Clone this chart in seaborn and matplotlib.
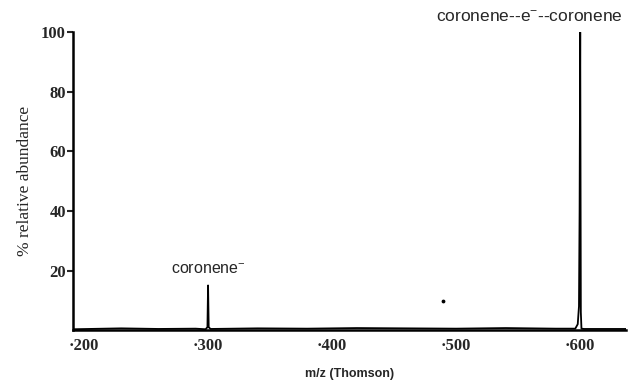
import matplotlib
matplotlib.use("Agg")
import matplotlib.pyplot as plt
import seaborn as sns
import pandas as pd

# spectrum (m/z, % relative abundance)
mz = [191, 230, 260, 290, 298, 299.5, 300, 300.5, 302, 340, 380, 420, 460,
      500, 540, 580, 596, 598, 599, 599.5, 600, 600.5, 601, 603, 637]
abundance = [0.3, 0.6, 0.4, 0.5, 0.3, 1.0, 15.0, 1.0, 0.4, 0.6, 0.5, 0.7, 0.6,
             0.5, 0.7, 0.5, 0.5, 2.0, 8.0, 40.0, 100.0, 6.0, 0.5, 0.4, 0.4]

# stray point near m/z 490
stray_mz = [489]
stray_abundance = [9.7]

x_ticks = [200, 300, 400, 500, 600]
x_tick_labels = ["·200", "·300", "·400", "·500", "·600"]
y_ticks = [20, 40, 60, 80, 100]

peak_labels = ["coronene$^{-}$", "coronene--e$^{-}$--coronene"]


def main():
    sns.set_style("ticks")
    plt.rcParams["font.family"] = ["Liberation Serif", "DejaVu Serif"]
    plt.rcParams["mathtext.default"] = "regular"

    df = pd.DataFrame({"mz": mz, "abundance": abundance})

    fig = plt.figure(figsize=(6.28, 3.83), dpi=100)
    ax = fig.add_axes([0.116, 0.138, 0.881, 0.778])

    sns.lineplot(data=df, x="mz", y="abundance", ax=ax, color="black",
                 linewidth=1.3)
    ax.scatter(stray_mz, stray_abundance, s=3, color="black")

    ax.set_xlim(191, 637)
    ax.set_ylim(0, 100)
    ax.set_xticks(x_ticks)
    ax.set_xticklabels(x_tick_labels, fontsize=12, fontweight="bold")
    ax.set_yticks(y_ticks)
    ax.set_yticklabels([str(v) for v in y_ticks], fontsize=12,
                       fontweight="bold")
    ax.tick_params(axis="x", length=0, pad=6)
    ax.tick_params(axis="y", length=4, width=1.5, pad=1)

    for side in ["top", "right"]:
        ax.spines[side].set_visible(False)
    for side in ["left", "bottom"]:
        ax.spines[side].set_linewidth(1.8)
        ax.spines[side].set_color("black")

    ax.set_xlabel("m/z (Thomson)", fontsize=9, fontweight="bold",
                  family=["Liberation Sans", "DejaVu Sans"], labelpad=10)
    ax.set_ylabel("% relative abundance", fontsize=12.5, labelpad=6)

    ax.text(300, 18, peak_labels[0], ha="center", va="bottom", fontsize=11.5,
            family=["Liberation Sans", "DejaVu Sans"])
    ax.text(634, 102.5, peak_labels[1], ha="right",
            va="bottom", fontsize=12.5, clip_on=False,
            family=["Liberation Sans", "DejaVu Sans"])

    fig.savefig("out.png", dpi=100)


if __name__ == "__main__":
    main()
